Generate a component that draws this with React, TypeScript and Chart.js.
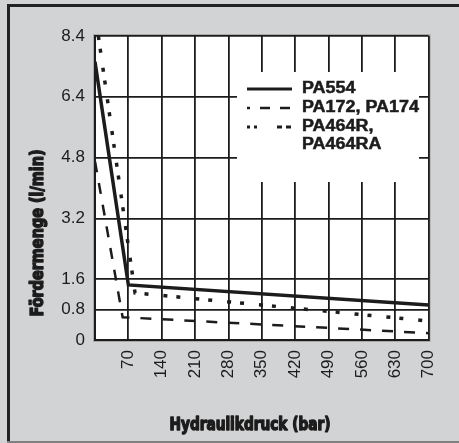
import React, { useEffect, useRef } from "react";
import { Chart, registerables, LinearScale } from "chart.js";

// ---- data ----
const xTicks = [0, 70, 140, 210, 280, 350, 420, 490, 560, 630, 700];
const yTicks = [0, 0.8, 1.6, 3.2, 4.8, 6.4, 8.4];

const pa554X = [0, 70, 700];
const pa554Y = [7.55, 1.45, 0.92];

const pa172X = [0, 58, 700];
const pa172Y = [4.7, 0.6, 0.18];

const pa464X = [7, 84, 700];
const pa464Y = [8.4, 1.24, 0.5];

const legendLabels = ["PA554", "PA172, PA174", "PA464R,", "PA464RA"];
const xTitle = "Hydraulikdruck (bar)";
const yTitle = "Fördermenge (l/min)";

// piecewise y axis: 0..6.4 uses 80% of the height, 6.4..8.4 the rest
const Y_BREAK = 6.4;
const Y_TOP = 8.4;
const Y_BREAK_FRAC = 0.8;

function toDecimal(v: number) {
  if (v <= Y_BREAK) return (v / Y_BREAK) * Y_BREAK_FRAC;
  return Y_BREAK_FRAC + ((v - Y_BREAK) / (Y_TOP - Y_BREAK)) * (1 - Y_BREAK_FRAC);
}
function fromDecimal(d: number) {
  if (d <= Y_BREAK_FRAC) return (d / Y_BREAK_FRAC) * Y_BREAK;
  return Y_BREAK + ((d - Y_BREAK_FRAC) / (1 - Y_BREAK_FRAC)) * (Y_TOP - Y_BREAK);
}

class PiecewiseScale extends (LinearScale as any) {
  static id = "piecewise";
  getPixelForValue(value: any) {
    if (value === null || value === undefined) return NaN;
    return (this as any).getPixelForDecimal(toDecimal(value));
  }
  getValueForPixel(pixel: number) {
    return fromDecimal((this as any).getDecimalForPixel(pixel));
  }
}

Chart.register(...registerables, PiecewiseScale as any);

const zip = (xs: number[], ys: number[]) => xs.map((x, i) => ({ x, y: ys[i] }));

const INK = "#1c1c1c";
const BG = "#d2d3d5";
const FAMILY = '"Liberation Sans", Arial, sans-serif';

const framePlugin = {
  id: "frame",
  beforeDraw(chart: any) {
    const { ctx, width, height, chartArea: a } = chart;
    ctx.save();
    ctx.fillStyle = BG;
    ctx.fillRect(0, 0, width, height);
    ctx.fillStyle = "#222";
    ctx.fillRect(7, 4, width - 7, 3);
    ctx.fillRect(7, 4, 3, height - 4);
    ctx.fillStyle = "#808080";
    ctx.fillRect(7, height - 2, width - 7, 2);
    ctx.fillStyle = "#a9a9a9";
    ctx.fillRect(a.left - 2, a.top - 2, a.right - a.left + 4, a.bottom - a.top + 4);
    ctx.fillStyle = "#ffffff";
    ctx.fillRect(a.left, a.top, a.right - a.left, a.bottom - a.top);
    ctx.restore();
  },
  beforeDatasetsDraw(chart: any) {
    const { ctx } = chart;
    ctx.save();
    ctx.fillStyle = "#ffffff";
    ctx.fillRect(237, 72, 182, 110);
    ctx.strokeStyle = INK;
    ctx.fillStyle = INK;
    // solid
    ctx.lineWidth = 3;
    ctx.beginPath();
    ctx.moveTo(247, 89);
    ctx.lineTo(292, 89);
    ctx.stroke();
    // dashed
    ctx.lineWidth = 2.5;
    ctx.setLineDash([10, 10]);
    ctx.lineDashOffset = 7;
    ctx.beginPath();
    ctx.moveTo(247, 108);
    ctx.lineTo(292, 108);
    ctx.stroke();
    ctx.setLineDash([]);
    // dotted
    const segs = [[247, 3], [254, 3], [277, 5], [286, 5]];
    segs.forEach(([x, w]) => ctx.fillRect(x, 125.5, w, 3));
    ctx.font = "bold 16px " + FAMILY;
    ctx.textBaseline = "middle";
    ctx.textAlign = "left";
    ctx.lineWidth = 0.5;
    const rows = [89, 108, 127, 145];
    legendLabels.forEach((t, i) => {
      ctx.save();
      ctx.translate(302, rows[i]);
      ctx.scale(1.12, 1);
      ctx.fillText(t, 0, 0);
      ctx.strokeText(t, 0, 0);
      ctx.restore();
    });
    ctx.restore();
  },
  afterDraw(chart: any) {
    const { ctx } = chart;
    ctx.save();
    ctx.fillStyle = INK;
    ctx.strokeStyle = INK;
    ctx.lineWidth = 1.4;
    ctx.lineJoin = "round";
    ctx.textAlign = "center";
    ctx.textBaseline = "middle";
    ctx.font = 'bold 18px "Liberation Sans Narrow", "DejaVu Sans Condensed", sans-serif';
    // x title
    let w = ctx.measureText(xTitle).width;
    ctx.save();
    ctx.translate(250, 425);
    ctx.scale(161 / w, 1);
    ctx.fillText(xTitle, 0, 0);
    ctx.strokeText(xTitle, 0, 0);
    ctx.restore();
    // y title
    w = ctx.measureText(yTitle).width;
    ctx.save();
    ctx.translate(38, 233);
    ctx.rotate(-Math.PI / 2);
    ctx.scale(167 / w, 1);
    ctx.fillText(yTitle, 0, 0);
    ctx.strokeText(yTitle, 0, 0);
    ctx.restore();
    ctx.restore();
  },
};

export default function App() {
  const ref = useRef<HTMLCanvasElement | null>(null);
  useEffect(() => {
    document.body.style.margin = "0";
    const canvas = ref.current;
    if (!canvas) return;
    const chart = new Chart(canvas, {
      type: "line",
      data: {
        datasets: [
          {
            label: legendLabels[0],
            data: zip(pa554X, pa554Y),
            borderColor: INK,
            borderWidth: 3.5,
            pointRadius: 0,
            tension: 0,
          },
          {
            label: legendLabels[1],
            data: zip(pa172X, pa172Y),
            borderColor: INK,
            borderWidth: 2.5,
            borderDash: [11, 11],
            pointRadius: 0,
            tension: 0,
          },
          {
            label: legendLabels[2] + " " + legendLabels[3],
            data: zip(pa464X, pa464Y),
            borderColor: INK,
            borderWidth: 3.5,
            borderDash: [4, 9, 4, 15],
            borderCapStyle: "butt",
            pointRadius: 0,
            tension: 0,
          },
        ],
      },
      options: {
        responsive: false,
        devicePixelRatio: 1,
        animation: false,
        events: [],
        layout: { padding: { top: 36, right: 29, left: 0, bottom: 0 } },
        plugins: { legend: { display: false }, tooltip: { enabled: false } },
        scales: {
          x: {
            type: "linear",
            min: 0,
            max: 700,
            afterBuildTicks: (s: any) => {
              s.ticks = xTicks.map((v) => ({ value: v }));
            },
            afterFit: (s: any) => {
              s.height = 103;
            },
            grid: { color: INK, lineWidth: 1.8, drawTicks: false },
            border: { color: INK, width: 2 },
            ticks: {
              color: INK,
              font: { family: FAMILY, size: 17 },
              padding: 10,
              minRotation: 90,
              maxRotation: 90,
              autoSkip: false,
              callback: (v: any) => (v === 0 ? "" : String(v)),
            },
          },
          y: {
            type: "piecewise" as any,
            min: 0,
            max: Y_TOP,
            afterBuildTicks: (s: any) => {
              s.ticks = yTicks.map((v) => ({ value: v }));
            },
            afterFit: (s: any) => {
              s.width = 95;
            },
            grid: { color: INK, lineWidth: 1.8, drawTicks: false },
            border: { color: INK, width: 2 },
            ticks: {
              color: INK,
              font: { family: FAMILY, size: 17 },
              padding: 10,
              autoSkip: false,
              callback: (v: any) => String(v),
            },
          },
        },
      },
      plugins: [framePlugin],
    } as any);
    return () => chart.destroy();
  }, []);
  return (
    <div style={{ width: 459, height: 443 }}>
      <canvas ref={ref} width={459} height={443} style={{ display: "block" }} />
    </div>
  );
}
